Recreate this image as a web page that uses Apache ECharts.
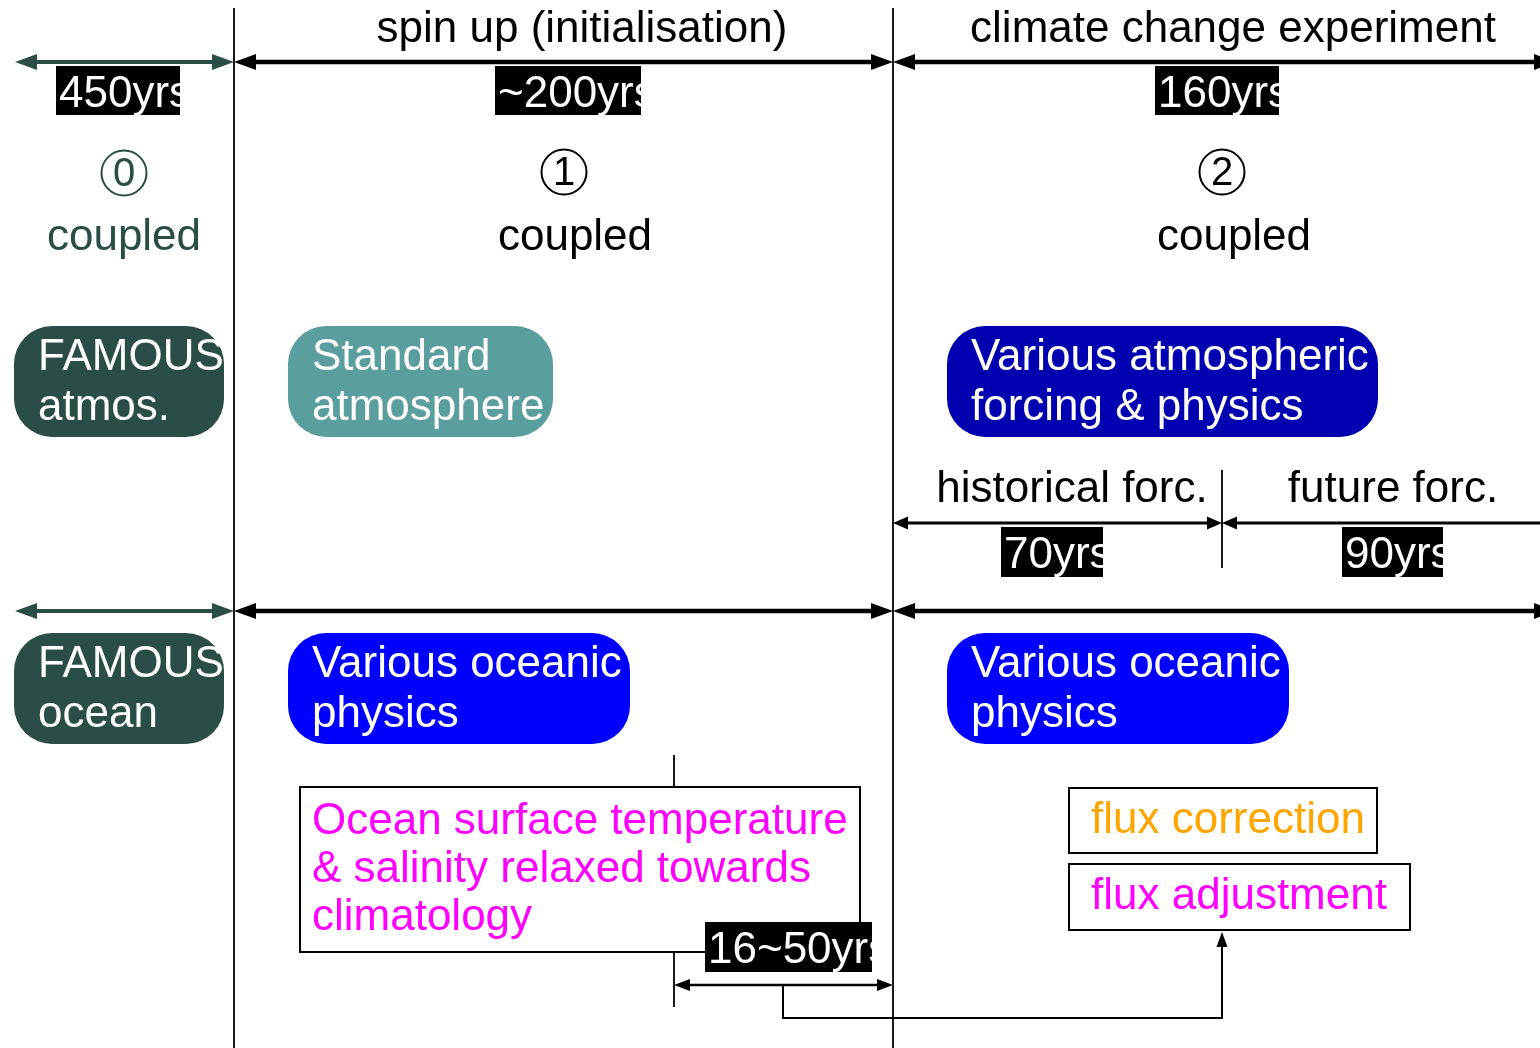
<!DOCTYPE html>
<html>
<head>
<meta charset="utf-8">
<title>FAMOUS experiment design</title>
<script src="https://cdn.jsdelivr.net/npm/echarts@6/dist/echarts.min.js"></script>
<style>
  html, body { margin: 0; padding: 0; background: #fff; }
  #chart { width: 1540px; height: 1048px; }
</style>
</head>
<body>
<div id="chart"></div>
<script>
// diagram space: x 0..1540, y 0..1048 (y grows downwards)
const dividers = [[234, 8, 1048], [893, 8, 1048], [1222, 470, 568], [674, 755, 1007]];

const periodSpans = [[15, 234], [234, 893], [893, 1556]];
const periodRows = [62, 611];
const forcingSpans = [[893, 1222], [1222, 1556]];
const forcingRow = 523;
const relaxSpans = [[674, 893]];
const relaxRow = 985;
const feedbackPath = [[783, 985], [783, 1018], [1222, 1018], [1222, 932]];

const periodTitles = ['spin up (initialisation)', 'climate change experiment'];
const periodTitlePos = [[582, 30], [1233, 30]];
const forcingTitles = ['historical forc.', 'future forc.'];
const forcingTitlePos = [[1072, 490], [1393, 490]];

const durations = ['450yrs', '~200yrs', '160yrs', '70yrs', '90yrs', '16~50yrs'];
const durationBoxes = [
  [56, 180, 66, 115], [495, 641, 66, 115], [1155, 1279, 66, 115],
  [1001, 1103, 527, 577], [1342, 1443, 527, 577], [705, 872, 922, 972]
];

const stepNumbers = ['0', '1', '2'];
const stepPos = [[124, 173], [564, 172], [1222, 172]];
const stepLabels = ['coupled', 'coupled', 'coupled'];
const stepLabelPos = [[124, 238], [575, 238], [1234, 238]];

const modelNames = [
  'FAMOUS\natmos.', 'Standard\natmosphere', 'Various atmospheric\nforcing & physics',
  'FAMOUS\nocean', 'Various oceanic\nphysics', 'Various oceanic\nphysics'
];
const modelBoxes = [
  [14, 224, 326, 437], [288, 553, 326, 437], [947, 1378, 326, 437],
  [14, 224, 633, 744], [288, 630, 633, 744], [947, 1289, 633, 744]
];
const modelKinds = ['famous', 'standard', 'forcing', 'famous', 'ocean', 'ocean'];

const notes = ['Ocean surface temperature\n& salinity relaxed towards\nclimatology', 'flux correction', 'flux adjustment'];
const noteBoxes = [[300, 860, 787, 952], [1069, 1377, 788, 853], [1069, 1410, 864, 930]];
const noteKinds = ['relax', 'correction', 'adjustment'];

// styles
const FONT = '"Liberation Sans", Arial, sans-serif';
const TEAL = '#2a4d48';
const modelColors = { famous: TEAL, standard: '#5a9e9e', forcing: '#0000b0', ocean: '#0000ff' };
const noteColors = { relax: '#ff00ff', correction: '#ffa500', adjustment: '#ff00ff' };
const spanStyles = {
  famous: { color: TEAL, width: 4, len: 22, head: 16 },
  main: { color: '#000', width: 4.5, len: 22, head: 16 },
  sub: { color: '#000', width: 3, len: 15, head: 13 },
  small: { color: '#000', width: 2.5, len: 16, head: 12 }
};

const spanItems = [];
periodRows.forEach(function (y) {
  periodSpans.forEach(function (s, i) {
    spanItems.push({ x1: s[0], x2: s[1], y: y, style: i === 0 ? 'famous' : 'main' });
  });
});
forcingSpans.forEach(function (s) { spanItems.push({ x1: s[0], x2: s[1], y: forcingRow, style: 'sub' }); });
relaxSpans.forEach(function (s) { spanItems.push({ x1: s[0], x2: s[1], y: relaxRow, style: 'small' }); });

function head(tip, from, len, w, color) {
  const dx = tip[0] - from[0], dy = tip[1] - from[1];
  const d = Math.hypot(dx, dy), ux = dx / d, uy = dy / d;
  const bx = tip[0] - ux * len, by = tip[1] - uy * len;
  return {
    type: 'polygon',
    shape: { points: [tip, [bx - uy * w / 2, by + ux * w / 2], [bx + uy * w / 2, by - ux * w / 2]] },
    style: { fill: color }
  };
}

const chart = echarts.init(document.getElementById('chart'));

const option = {
  animation: false,
  backgroundColor: '#fff',
  grid: { left: 0, right: 0, top: 0, bottom: 0 },
  xAxis: { type: 'value', min: 0, max: 1540, show: false },
  yAxis: { type: 'value', min: 0, max: 1048, inverse: true, show: false },
  series: [
    {
      // vertical dividers
      type: 'custom', coordinateSystem: 'cartesian2d', clip: false, silent: true, z: 1,
      data: dividers,
      renderItem: function (params, api) {
        const d = dividers[params.dataIndex];
        const a = api.coord([d[0], d[1]]), b = api.coord([d[0], d[2]]);
        return { type: 'line', shape: { x1: a[0], y1: a[1], x2: b[0], y2: b[1] }, style: { stroke: '#1a1a1a', lineWidth: 2 } };
      }
    },
    {
      // period arrows
      type: 'custom', coordinateSystem: 'cartesian2d', clip: false, silent: true, z: 2,
      data: spanItems.map(function (s) { return [s.x1, s.y]; }),
      renderItem: function (params, api) {
        const s = spanItems[params.dataIndex];
        const st = spanStyles[s.style];
        const a = api.coord([s.x1, s.y]), b = api.coord([s.x2, s.y]);
        return {
          type: 'group',
          children: [
            { type: 'line', shape: { x1: a[0] + st.len - 1, y1: a[1], x2: b[0] - st.len + 1, y2: b[1] }, style: { stroke: st.color, lineWidth: st.width } },
            head(a, b, st.len, st.head, st.color),
            head(b, a, st.len, st.head, st.color)
          ]
        };
      }
    },
    {
      // feedback connector to flux adjustment
      type: 'custom', coordinateSystem: 'cartesian2d', clip: false, silent: true, z: 2,
      data: [feedbackPath[0]],
      renderItem: function (params, api) {
        const pts = feedbackPath.map(function (p) { return api.coord(p); });
        const n = pts.length;
        const tip = pts[n - 1], prev = pts[n - 2];
        const lineEnd = [tip[0], tip[1] + 12];
        const path = pts.slice(0, n - 1).concat([lineEnd]);
        return {
          type: 'group',
          children: [
            { type: 'polyline', shape: { points: path }, style: { stroke: '#000', lineWidth: 2, fill: null } },
            head(tip, prev, 15, 11, '#000')
          ]
        };
      }
    },
    {
      // model component boxes
      type: 'custom', coordinateSystem: 'cartesian2d', clip: false, silent: true, z: 3,
      data: modelBoxes,
      renderItem: function (params, api) {
        const i = params.dataIndex, b = modelBoxes[i];
        const p0 = api.coord([b[0], b[2]]), p1 = api.coord([b[1], b[3]]);
        return {
          type: 'group',
          children: [
            { type: 'rect', shape: { x: p0[0], y: p0[1], width: p1[0] - p0[0], height: p1[1] - p0[1], r: 38 }, style: { fill: modelColors[modelKinds[i]] } },
            {
              type: 'text',
              style: {
                text: modelNames[i], x: p0[0] + 24, y: (p0[1] + p1[1]) / 2 + 1,
                fill: '#fff', fontSize: 44, fontFamily: FONT, lineHeight: 50,
                align: 'left', verticalAlign: 'middle'
              }
            }
          ]
        };
      }
    },
    {
      // outlined notes
      type: 'custom', coordinateSystem: 'cartesian2d', clip: false, silent: true, z: 3,
      data: noteBoxes,
      renderItem: function (params, api) {
        const i = params.dataIndex, b = noteBoxes[i];
        const p0 = api.coord([b[0], b[2]]), p1 = api.coord([b[1], b[3]]);
        return {
          type: 'group',
          children: [
            { type: 'rect', shape: { x: p0[0], y: p0[1], width: p1[0] - p0[0], height: p1[1] - p0[1] }, style: { fill: '#fff', stroke: '#000', lineWidth: 2 } },
            {
              type: 'text',
              style: {
                text: notes[i], x: p0[0] + (i === 0 ? 12 : 22), y: (p0[1] + p1[1]) / 2,
                fill: noteColors[noteKinds[i]], fontSize: 44, fontFamily: FONT, lineHeight: 48,
                align: 'left', verticalAlign: 'middle'
              }
            }
          ]
        };
      }
    },
    {
      // duration tags (white text overflowing the black box vanishes on white)
      type: 'custom', coordinateSystem: 'cartesian2d', clip: false, silent: true, z: 4,
      data: durationBoxes,
      renderItem: function (params, api) {
        const i = params.dataIndex, b = durationBoxes[i];
        const p0 = api.coord([b[0], b[2]]), p1 = api.coord([b[1], b[3]]);
        return {
          type: 'group',
          children: [
            { type: 'rect', shape: { x: p0[0], y: p0[1], width: p1[0] - p0[0], height: p1[1] - p0[1] }, style: { fill: '#000' } },
            {
              type: 'text',
              style: {
                text: durations[i], x: p0[0] + 3, y: (p0[1] + p1[1]) / 2 + 4,
                fill: '#fff', fontSize: 44, fontFamily: FONT, align: 'left', verticalAlign: 'middle'
              }
            }
          ]
        };
      }
    },
    {
      // circled step numbers
      type: 'custom', coordinateSystem: 'cartesian2d', clip: false, silent: true, z: 4,
      data: stepPos,
      renderItem: function (params, api) {
        const i = params.dataIndex, c = api.coord(stepPos[i]);
        const col = i === 0 ? TEAL : '#000';
        return {
          type: 'group',
          children: [
            { type: 'circle', shape: { cx: c[0], cy: c[1], r: 22.5 }, style: { fill: null, stroke: col, lineWidth: 2 } },
            { type: 'text', style: { text: stepNumbers[i], x: c[0], y: c[1] + 2, fill: col, fontSize: 40, fontFamily: FONT, align: 'center', verticalAlign: 'middle' } }
          ]
        };
      }
    },
    {
      // titles and labels
      type: 'custom', coordinateSystem: 'cartesian2d', clip: false, silent: true, z: 4,
      data: periodTitlePos.concat(forcingTitlePos, stepLabelPos),
      renderItem: function (params, api) {
        const texts = periodTitles.concat(forcingTitles, stepLabels);
        const pos = periodTitlePos.concat(forcingTitlePos, stepLabelPos);
        const i = params.dataIndex, c = api.coord(pos[i]);
        const col = i === texts.length - 3 ? TEAL : '#000';
        return { type: 'text', style: { text: texts[i], x: c[0], y: c[1], fill: col, fontSize: 44, fontFamily: FONT, align: 'center', verticalAlign: 'middle' } };
      }
    }
  ]
};

option && chart.setOption(option);
window.addEventListener('resize', function () {
  chart.resize();
});
</script>
</body>
</html>
